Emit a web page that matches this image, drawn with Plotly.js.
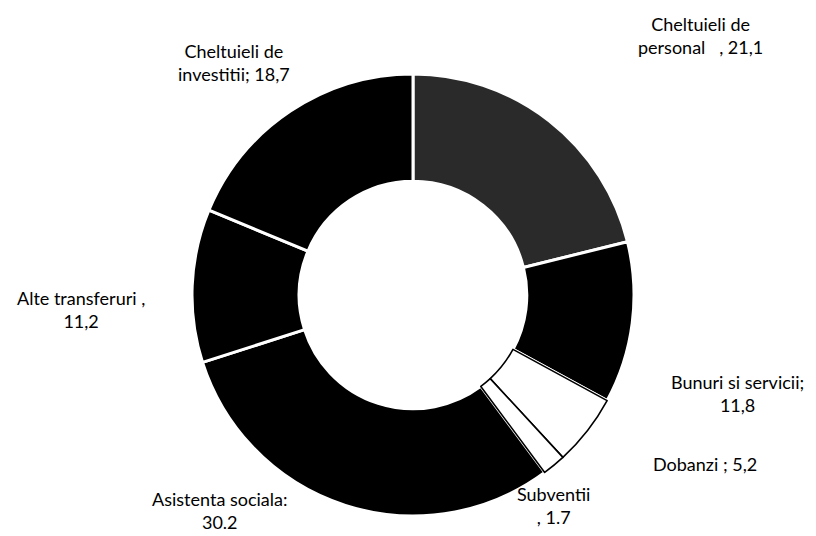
<!DOCTYPE html>
<html>
<head>
<meta charset="utf-8">
<script src="https://cdn.plot.ly/plotly-3.0.1.min.js"></script>
<style>html,body{margin:0;padding:0;background:#fff;}#chart{width:816px;height:536px;}</style>
</head>
<body>
<div id="chart"></div>
<script>
// Data (Romanian budget expenditure structure, %)
const categories = ["Cheltuieli de personal", "Bunuri si servicii", "Dobanzi", "Subventii",
                    "Asistenta sociala", "Alte transferuri", "Cheltuieli de investitii"];
const values = [21.1, 11.8, 5.2, 1.7, 30.2, 11.2, 18.7];
const labelTexts = ["Cheltuieli de<br>personal   , 21,1", "Bunuri si servicii;<br>11,8", "Dobanzi ; 5,2",
                    "Subventii<br>, 1.7", "Asistenta sociala:<br>30.2", "Alte transferuri ,<br>11,2",
                    "Cheltuieli de<br>investitii; 18,7"];

// styling
const fills = ["#2a2a2a", "#000000", "#ffffff", "#ffffff", "#000000", "#000000", "#000000"];
const overlayFills = ["rgba(0,0,0,0)", "rgba(0,0,0,0)", "#ffffff", "#ffffff", "rgba(0,0,0,0)", "rgba(0,0,0,0)", "rgba(0,0,0,0)"];
const overlayLineW = [0, 0, 1.6, 1.6, 0, 0, 0];
// label anchor positions in pixels (layout only)
const labelPix = [[700, 35], [737, 393], [705, 464], [553, 505], [220, 510], [81, 309], [234, 62]];

const M = {l: 192, r: 182, t: 74, b: 20};
const W = 816 - M.l - M.r, H = 536 - M.t - M.b;
const toPaper = (px, py) => [(px - M.l) / W, 1 - (py - M.t) / H];

const base = {
  type: "pie", labels: categories, values: values, sort: false, direction: "clockwise",
  rotation: 0, hole: 0.515, textinfo: "none", hoverinfo: "label+value", showlegend: false
};

const traces = [
  Object.assign({}, base, {marker: {colors: fills, line: {color: "#ffffff", width: 3}}}),
  Object.assign({}, base, {marker: {colors: overlayFills, line: {color: "#000000", width: overlayLineW}}})
];

const annotations = labelTexts.map((t, i) => {
  const p = toPaper(labelPix[i][0], labelPix[i][1]);
  return {text: t, x: p[0], y: p[1], xref: "paper", yref: "paper", showarrow: false,
          xanchor: "center", yanchor: "middle", align: "center",
          font: {family: "Lato, 'Open Sans', sans-serif", size: 18, color: "#000"}};
});

const layout = {
  width: 816, height: 536, margin: M, paper_bgcolor: "#ffffff", plot_bgcolor: "#ffffff",
  showlegend: false, annotations: annotations
};

Plotly.newPlot("chart", traces, layout, {displayModeBar: false, staticPlot: true});
</script>
</body>
</html>
